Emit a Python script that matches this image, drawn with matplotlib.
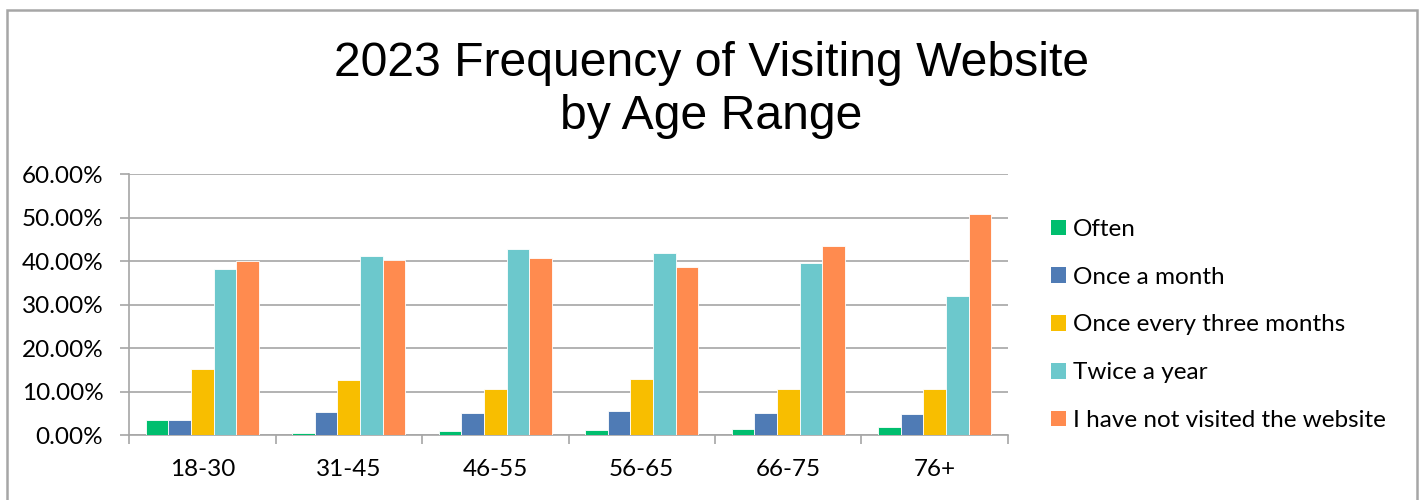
import matplotlib
matplotlib.use("Agg")
import matplotlib.pyplot as plt
import numpy as np
from matplotlib.patches import Rectangle, Patch
from matplotlib.ticker import FuncFormatter, MultipleLocator

categories = ["18-30", "31-45", "46-55", "56-65", "66-75", "76+"]
series_names = ["Often", "Once a month", "Once every three months",
                "Twice a year", "I have not visited the website"]
often = [3.37, 0.54, 0.84, 1.23, 1.30, 1.76]
once_month = [3.37, 5.21, 5.06, 5.44, 5.06, 4.75]
three_months = [15.17, 12.57, 10.50, 12.80, 10.50, 10.65]
twice_year = [38.24, 41.23, 42.84, 42.00, 39.62, 32.10]
not_visited = [40.00, 40.38, 40.69, 38.62, 43.60, 50.96]
series_values = [often, once_month, three_months, twice_year, not_visited]
colors = ["#00BE6E", "#4F7BB5", "#F8BE00", "#6CC8CC", "#FF8B4F"]

W, H = 1423, 500
fig = plt.figure(figsize=(W / 100, H / 100), dpi=100)
fig.patch.set_facecolor("white")

ax = fig.add_axes([129 / W, 1 - 435 / H, (1008 - 129) / W, (435 - 174.3) / H])

grid_c = "#A6A6A6"
n = len(series_names)
bw = 1 / (n + 1.5)
x = np.arange(len(categories))
for i, (vals, c) in enumerate(zip(series_values, colors)):
    ax.bar(x + (i - (n - 1) / 2) * bw, np.array(vals) / 100, width=bw,
           color=c, edgecolor="white", linewidth=0.6, zorder=3,
           label=series_names[i])

ax.set_xlim(-0.5, len(categories) - 0.5)
ax.set_ylim(0, 0.6)
ax.yaxis.set_major_locator(MultipleLocator(0.1))
ax.yaxis.set_major_formatter(FuncFormatter(lambda v, p: f"{v*100:.2f}%"))
ax.grid(axis="y", color=grid_c, linewidth=1.2, zorder=0)
for s in ["top", "right"]:
    ax.spines[s].set_visible(False)
for s in ["left", "bottom"]:
    ax.spines[s].set_color(grid_c)
    ax.spines[s].set_linewidth(1.2)

tick_font = "Lato"
fs = 17.5
ax.set_xticks(np.arange(len(categories) + 1) - 0.5)
ax.set_xticklabels([])
ax.set_xticks(x, minor=True)
ax.set_xticklabels(categories, minor=True, fontsize=fs, family=tick_font)
ax.tick_params(axis="x", which="major", length=6.5, width=1.2, color=grid_c)
ax.tick_params(axis="x", which="minor", length=0, pad=17)
ax.tick_params(axis="y", length=6.5, width=1.2, color=grid_c, pad=12,
               labelsize=fs)
for lab in ax.get_yticklabels():
    lab.set_family(tick_font)

fig.text(0.5, 1 - 76 / H, "2023 Frequency of Visiting Website",
         ha="center", va="baseline", fontsize=34.7, family="Liberation Sans")
fig.text(0.5, 1 - 129 / H, "by Age Range",
         ha="center", va="baseline", fontsize=34.7, family="Liberation Sans")

handles = [Patch(facecolor=c, edgecolor="none") for c in colors]
fig.legend(handles, series_names, loc="upper left",
           bbox_to_anchor=(1051 / W, 1 - 219 / H), frameon=False,
           prop={"family": tick_font, "size": fs},
           handlelength=0.62, handleheight=0.62, handletextpad=0.3,
           labelspacing=1.1, borderaxespad=0, borderpad=0)

fig.add_artist(Rectangle((7 / W, -0.05), 1410 / W, 1.05 - 10 / H,
                         transform=fig.transFigure, fill=False,
                         edgecolor="#A6A6A6", linewidth=1.8, clip_on=False))

fig.savefig("out.png", dpi=100)
